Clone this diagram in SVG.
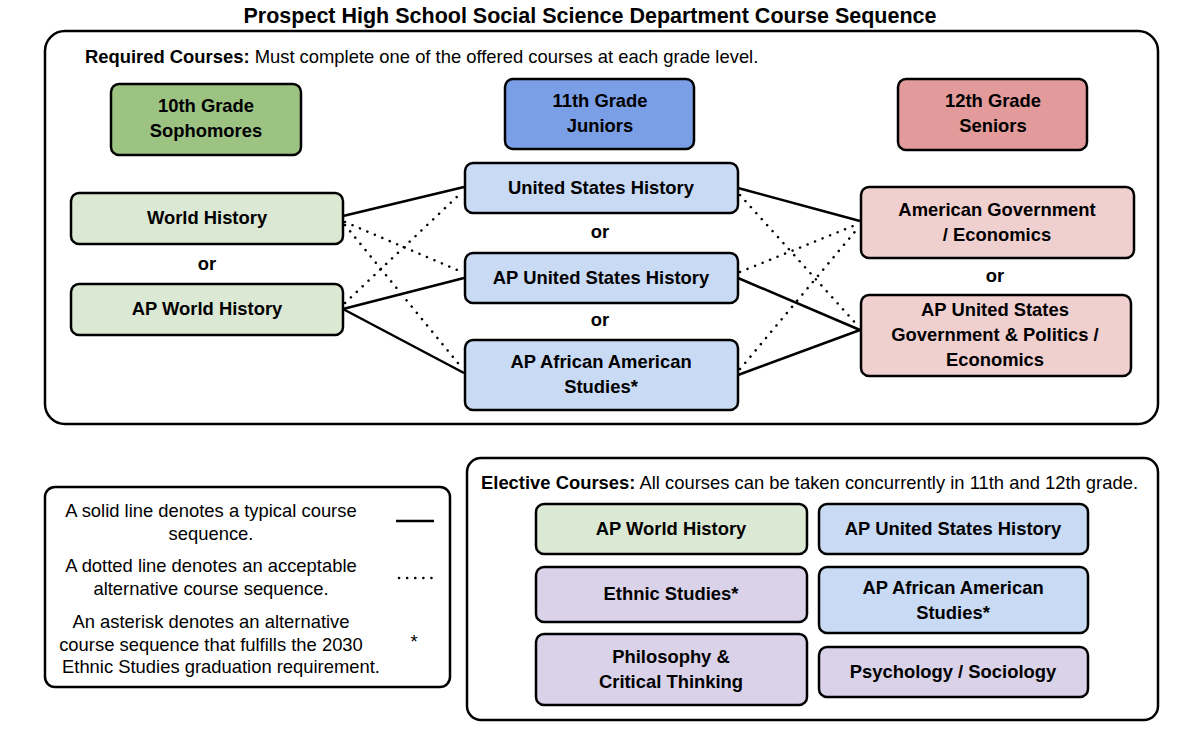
<svg xmlns="http://www.w3.org/2000/svg" width="1200" height="748" viewBox="0 0 1200 748">
<style>
text{font-family:"Liberation Sans",Arial,sans-serif;fill:#000}
.t{font-size:18.4px;font-weight:bold;text-anchor:middle}
.n{font-size:18.4px;text-anchor:middle}
.box{stroke:#000;stroke-width:2.5}
.frame{fill:#fff;stroke:#000;stroke-width:2.5}
.g{fill:#dbe8d4}.b{fill:#c9daf5}.r{fill:#f0cfcf}.p{fill:#d9d2e8}
.s{stroke:#000;stroke-width:2.5;fill:none}
.d{stroke:#000;stroke-width:2.5;fill:none;stroke-dasharray:0.1 8;stroke-linecap:round}
</style>
<rect width="1200" height="748" fill="#fff"/>
<text x="590" y="23" class="t" style="font-size:21.5px">Prospect High School Social Science Department Course Sequence</text>
<rect class="frame" x="45" y="31" width="1113" height="393" rx="20"/>
<text x="85" y="63" style="font-size:18.4px"><tspan font-weight="bold">Required Courses:</tspan> Must complete one of the offered courses at each grade level.</text>
<g id="connectors">
<line class="s" x1="343" y1="216" x2="464" y2="187"/>
<line class="s" x1="343" y1="309" x2="464" y2="278"/>
<line class="s" x1="343" y1="309" x2="464" y2="373"/>
<line class="s" x1="738" y1="188" x2="860" y2="221"/>
<line class="s" x1="738" y1="278" x2="860" y2="330"/>
<line class="s" x1="738" y1="375" x2="860" y2="330"/>
<line class="d" x1="345" y1="222" x2="462" y2="272"/>
<line class="d" x1="345" y1="225" x2="462" y2="368"/>
<line class="d" x1="345" y1="303" x2="462" y2="192"/>
<line class="d" x1="740" y1="195" x2="858" y2="326"/>
<line class="d" x1="740" y1="272" x2="858" y2="224"/>
<line class="d" x1="740" y1="369" x2="858" y2="228"/>
</g>
<g id="h10"><rect class="box" x="111" y="84" width="190" height="71" rx="8" fill="#9dc383"/><text class="t" x="206" y="112">10th Grade</text><text class="t" x="206" y="137">Sophomores</text></g>
<g id="h11"><rect class="box" x="505" y="79" width="189" height="70" rx="8" fill="#7a9fe6"/><text class="t" x="600" y="107">11th Grade</text><text class="t" x="600" y="132">Juniors</text></g>
<g id="h12"><rect class="box" x="898" y="79" width="189" height="71" rx="8" fill="#e29b9a"/><text class="t" x="993" y="107">12th Grade</text><text class="t" x="993" y="132">Seniors</text></g>
<g id="wh"><rect class="box g" x="71" y="193" width="272" height="51" rx="8"/><text class="t" x="207" y="224">World History</text></g>
<text class="t" x="207" y="270">or</text>
<g id="apwh"><rect class="box g" x="71" y="284" width="272" height="51" rx="8"/><text class="t" x="207" y="315">AP World History</text></g>
<g id="ush"><rect class="box b" x="465" y="163" width="273" height="50" rx="8"/><text class="t" x="601" y="194">United States History</text></g>
<text class="t" x="600" y="238">or</text>
<g id="apush"><rect class="box b" x="465" y="253" width="273" height="50" rx="8"/><text class="t" x="601" y="284">AP United States History</text></g>
<text class="t" x="600" y="326">or</text>
<g id="aas"><rect class="box b" x="465" y="340" width="273" height="70" rx="8"/><text class="t" x="601" y="368">AP African American</text><text class="t" x="601" y="393">Studies*</text></g>
<g id="amgov"><rect class="box r" x="861" y="187" width="273" height="71" rx="8"/><text class="t" x="997" y="216">American Government</text><text class="t" x="997" y="241">/ Economics</text></g>
<text class="t" x="995" y="282">or</text>
<g id="apgov"><rect class="box r" x="861" y="295" width="270" height="81" rx="8"/><text class="t" x="995" y="316">AP United States</text><text class="t" x="995" y="341">Government &amp; Politics /</text><text class="t" x="995" y="366">Economics</text></g>
<g id="legend"><rect class="frame" x="45" y="487" width="405" height="200" rx="10"/>
<text class="n" x="211" y="517">A solid line denotes a typical course</text><text class="n" x="211" y="540">sequence.</text>
<text class="n" x="211" y="572">A dotted line denotes an acceptable</text><text class="n" x="211" y="595">alternative course sequence.</text>
<text class="n" x="211" y="628">An asterisk denotes an alternative</text><text class="n" x="211" y="651">course sequence that fulfills the 2030</text><text class="n" x="221" y="673">Ethnic Studies graduation requirement.</text>
<line class="s" x1="396" y1="521" x2="434" y2="521"/>
<line class="d" x1="399" y1="578" x2="433" y2="578"/>
<text class="n" x="414" y="648">*</text></g>
<g id="electives"><rect class="frame" x="467" y="458" width="691" height="262" rx="14"/>
<text x="481" y="489" style="font-size:18.4px"><tspan font-weight="bold">Elective Courses:</tspan> All courses can be taken concurrently in 11th and 12th grade.</text></g>
<g id="e1"><rect class="box g" x="536" y="504" width="271" height="50" rx="8"/><text class="t" x="671" y="535">AP World History</text></g>
<g id="e2"><rect class="box b" x="819" y="504" width="269" height="50" rx="8"/><text class="t" x="953" y="535">AP United States History</text></g>
<g id="e3"><rect class="box p" x="536" y="567" width="271" height="55" rx="8"/><text class="t" x="671" y="600">Ethnic Studies*</text></g>
<g id="e4"><rect class="box b" x="819" y="567" width="269" height="66" rx="8"/><text class="t" x="953" y="594">AP African American</text><text class="t" x="953" y="619">Studies*</text></g>
<g id="e5"><rect class="box p" x="536" y="634" width="271" height="71" rx="8"/><text class="t" x="671" y="663">Philosophy &amp;</text><text class="t" x="671" y="688">Critical Thinking</text></g>
<g id="e6"><rect class="box p" x="819" y="647" width="269" height="50" rx="8"/><text class="t" x="953" y="678">Psychology / Sociology</text></g>
</svg>
